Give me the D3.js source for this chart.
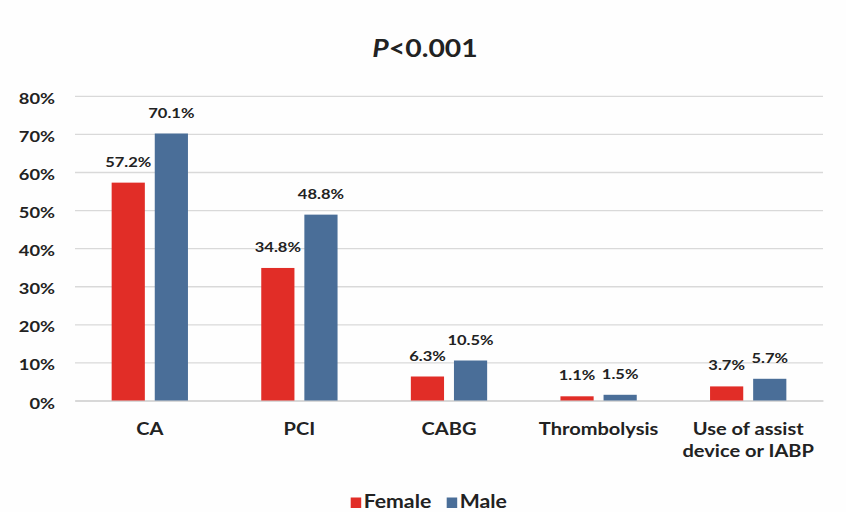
<!DOCTYPE html>
<html>
<head>
<meta charset="utf-8">
<script src="https://cdn.jsdelivr.net/npm/d3@7"></script>
<style>
  html, body { margin: 0; padding: 0; background: #fefefe; }
  svg { display: block; }
  text { font-family: Lato, "Open Sans", sans-serif; font-weight: 700; fill: #222; }
</style>
</head>
<body>
<svg id="chart" width="846" height="512"></svg>
<script>
// ---- data ----
const categories = ["CA", "PCI", "CABG", "Thrombolysis", "Use of assist\ndevice or IABP"];
const seriesNames = ["Female", "Male"];
const femaleValues = [57.2, 34.8, 6.3, 1.1, 3.7];
const maleValues = [70.1, 48.8, 10.5, 1.5, 5.7];
const yTickValues = [0, 10, 20, 30, 40, 50, 60, 70, 80];
const titleItalic = "P";
const titleRest = "<0.001";

// ---- layout ----
const W = 846, H = 512;
const plotLeft = 75, plotRight = 823, plotTop = 95.8, plotBottom = 400.5;
const sx = 1.18; // horizontal text stretch as in the reference
const textColor = "#222";
const colors = { Female: "#e12d27", Male: "#4a6e98" };

const svg = d3.select("#chart");
svg.append("rect").attr("width", W).attr("height", H).attr("fill", "#fefefe");

const x0 = d3.scaleBand().domain(categories).range([plotLeft, plotRight])
  .paddingInner(0.49).paddingOuter(0.245);
const x1 = d3.scaleBand().domain(seriesNames).range([0, x0.bandwidth()]).paddingInner(0.23);
const y = d3.scaleLinear().domain([0, 80]).range([plotBottom, plotTop]);
const color = d3.scaleOrdinal().domain(seriesNames).range([colors.Female, colors.Male]);

// y axis + gridlines
const yAxis = svg.append("g")
  .attr("transform", `translate(${plotLeft},0)`)
  .call(d3.axisLeft(y).tickValues(yTickValues).tickFormat(d => d + "%")
    .tickSizeInner(-(plotRight - plotLeft)).tickSizeOuter(0).tickPadding(0));
yAxis.select(".domain").remove();
yAxis.selectAll(".tick line").attr("stroke", "#d9d9d9").attr("stroke-width", 1.3);
yAxis.selectAll(".tick text")
  .attr("x", -20 / sx)
  .attr("dy", "0.36em")
  .attr("transform", `translate(0,2) scale(${sx},1)`)
  .style("font-size", "15.5px")
  .style("font-family", "Lato, sans-serif")
  .style("font-weight", 700)
  .attr("fill", textColor);

// x axis
const xAxis = svg.append("g")
  .attr("transform", `translate(0,${plotBottom})`)
  .call(d3.axisBottom(x0).tickSize(0).tickFormat(""));
xAxis.select(".domain").attr("stroke", "#d4d4d4").attr("stroke-width", 1.5);
xAxis.selectAll(".tick").each(function(d) {
  const lines = d.split("\n");
  const t = d3.select(this).append("text")
    .attr("text-anchor", "middle")
    .attr("transform", `translate(0,34) scale(${sx},1)`)
    .style("font-size", "17px")
    .attr("fill", textColor);
  lines.forEach((ln, i) => t.append("tspan").attr("x", 0).attr("y", i * 23).text(ln));
});

// bars
const rows = categories.map((c, i) => ({ cat: c, values: [
  { name: "Female", v: femaleValues[i] }, { name: "Male", v: maleValues[i] } ] }));

const groups = svg.append("g").selectAll("g").data(rows).join("g")
  .attr("transform", d => `translate(${x0(d.cat)},0)`);

groups.selectAll("rect").data(d => d.values).join("rect")
  .attr("x", d => x1(d.name))
  .attr("y", d => y(d.v))
  .attr("width", x1.bandwidth())
  .attr("height", d => y(0) - y(d.v))
  .attr("fill", d => color(d.name));

groups.selectAll("text.val").data(d => d.values).join("text")
  .attr("class", "val")
  .attr("text-anchor", "middle")
  .attr("transform", d => `translate(${x1(d.name) + x1.bandwidth() / 2},${y(d.v) - 16}) scale(${sx},1)`)
  .style("font-size", "14px")
  .attr("fill", textColor)
  .text(d => d.v.toFixed(1) + "%");

// title
const title = svg.append("text")
  .attr("text-anchor", "middle")
  .attr("transform", `translate(425,56.5) scale(${sx},1)`)
  .style("font-size", "24px")
  .attr("fill", "#1a1a1a");
title.append("tspan").style("font-style", "italic").text(titleItalic);
title.append("tspan").text(titleRest);

// legend
const legendItems = [
  { name: seriesNames[0], x: 350.7 },
  { name: seriesNames[1], x: 446.7 }
];
const lg = svg.append("g");
legendItems.forEach(it => {
  lg.append("rect").attr("x", it.x).attr("y", 497.5).attr("width", 10.5).attr("height", 10.5)
    .attr("fill", color(it.name));
  lg.append("text")
    .attr("transform", `translate(${it.x + 13},508) scale(${sx},1)`)
    .style("font-size", "18px")
    .attr("fill", textColor)
    .text(it.name);
});
</script>
</body>
</html>
